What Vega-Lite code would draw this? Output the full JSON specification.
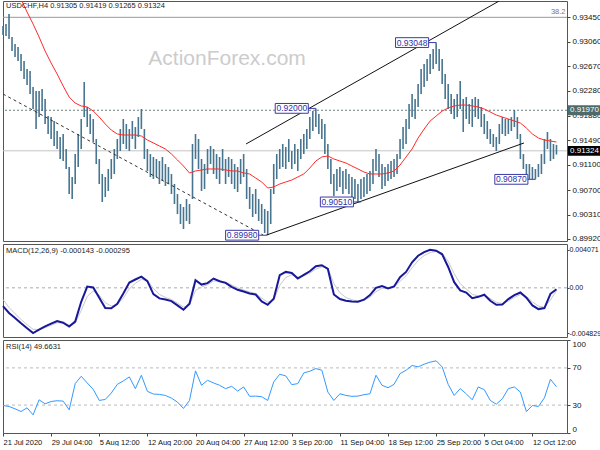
{
"$schema": "https://vega.github.io/schema/vega-lite/v6.json",
"padding": {"left": -2, "top": 0, "right": 0, "bottom": 0},
"bounds": "flush",
"background": "white",
"spacing": 3,
"config": {
 "view": {"stroke": "#555555", "strokeWidth": 1},
 "axis": {"labelFont": "Liberation Sans", "labelFontSize": 8, "labelColor": "#111111", "tickColor": "#444444", "tickSize": 3, "domain": false, "grid": false, "labelPadding": 2, "labelOverlap": false, "labelBound": false},
 "text": {"font": "Liberation Sans"}
},
"datasets": {
 "bars": [
{"t":0,"h":0.93311,"l":0.93168},{"t":2,"h":0.93343,"l":0.93152},{"t":4,"h":0.93502,"l":0.93104},{"t":6,"h":0.93136,"l":0.92913},{"t":8,"h":0.93025,"l":0.92818},{"t":10,"h":0.92977,"l":0.92754},{"t":12,"h":0.92865,"l":0.92595},{"t":14,"h":0.92754,"l":0.92467},{"t":16,"h":0.92627,"l":0.92372},{"t":18,"h":0.92595,"l":0.92229},
{"t":20,"h":0.9234,"l":0.9199},{"t":22,"h":0.92276,"l":0.91671},{"t":24,"h":0.92276,"l":0.91862},{"t":26,"h":0.92308,"l":0.91958},{"t":28,"h":0.92149,"l":0.91751},{"t":30,"h":0.91878,"l":0.91592},{"t":32,"h":0.91862,"l":0.91512},{"t":34,"h":0.91799,"l":0.91401},{"t":36,"h":0.9164,"l":0.91353},{"t":38,"h":0.91544,"l":0.91194},
{"t":40,"h":0.91592,"l":0.91162},{"t":42,"h":0.91353,"l":0.91035},{"t":44,"h":0.91066,"l":0.90637},{"t":46,"h":0.90907,"l":0.90557},{"t":48,"h":0.91273,"l":0.90796},{"t":50,"h":0.91592,"l":0.91066},{"t":52,"h":0.91831,"l":0.91353},{"t":54,"h":0.9242,"l":0.91862},{"t":56,"h":0.92022,"l":0.91703},{"t":58,"h":0.9191,"l":0.91592},
{"t":60,"h":0.91831,"l":0.91464},{"t":62,"h":0.91512,"l":0.91114},{"t":64,"h":0.91194,"l":0.90796},{"t":66,"h":0.90955,"l":0.90509},{"t":68,"h":0.90907,"l":0.90589},{"t":70,"h":0.91035,"l":0.90684},{"t":72,"h":0.91194,"l":0.90875},{"t":74,"h":0.91353,"l":0.90955},{"t":76,"h":0.91512,"l":0.91194},{"t":78,"h":0.91671,"l":0.91321},
{"t":80,"h":0.91831,"l":0.91433},{"t":82,"h":0.91751,"l":0.91353},{"t":84,"h":0.91671,"l":0.91321},{"t":86,"h":0.91799,"l":0.91512},{"t":88,"h":0.91703,"l":0.91353},{"t":90,"h":0.91862,"l":0.91544},{"t":92,"h":0.9199,"l":0.91671},{"t":94,"h":0.91671,"l":0.91194},{"t":96,"h":0.91353,"l":0.91003},{"t":98,"h":0.91273,"l":0.90907},
{"t":100,"h":0.91226,"l":0.90875},{"t":102,"h":0.91194,"l":0.90907},{"t":104,"h":0.91162,"l":0.90796},{"t":106,"h":0.91226,"l":0.90844},{"t":108,"h":0.91114,"l":0.90764},{"t":110,"h":0.91066,"l":0.90796},{"t":112,"h":0.90955,"l":0.90637},{"t":114,"h":0.90796,"l":0.90477},{"t":116,"h":0.90637,"l":0.90318},{"t":118,"h":0.90477,"l":0.90159},
{"t":120,"h":0.9043,"l":0.90079},{"t":122,"h":0.90557,"l":0.90207},{"t":124,"h":0.90477,"l":0.90159},{"t":126,"h":0.91433,"l":0.90557},{"t":128,"h":0.91592,"l":0.91194},{"t":130,"h":0.91512,"l":0.91035},{"t":132,"h":0.91194,"l":0.90684},{"t":134,"h":0.91114,"l":0.90716},{"t":136,"h":0.91353,"l":0.90955},{"t":138,"h":0.91401,"l":0.91114},
{"t":140,"h":0.91353,"l":0.90955},{"t":142,"h":0.91273,"l":0.90875},{"t":144,"h":0.91226,"l":0.90796},{"t":146,"h":0.91353,"l":0.91003},{"t":148,"h":0.91194,"l":0.90796},{"t":150,"h":0.91226,"l":0.90907},{"t":152,"h":0.91194,"l":0.90796},{"t":154,"h":0.91114,"l":0.90716},{"t":156,"h":0.91066,"l":0.90668},{"t":158,"h":0.91194,"l":0.90796},
{"t":160,"h":0.91273,"l":0.90907},{"t":162,"h":0.91035,"l":0.90557},{"t":164,"h":0.90748,"l":0.90398},{"t":166,"h":0.90637,"l":0.9027},{"t":168,"h":0.90716,"l":0.90318},{"t":170,"h":0.90557,"l":0.90207},{"t":172,"h":0.90477,"l":0.90159},{"t":174,"h":0.90398,"l":0.90016},{"t":176,"h":0.90366,"l":0.8998},{"t":178,"h":0.90716,"l":0.90159},
{"t":180,"h":0.91114,"l":0.90637},{"t":182,"h":0.91273,"l":0.90875},{"t":184,"h":0.91353,"l":0.91035},{"t":186,"h":0.91433,"l":0.91066},{"t":188,"h":0.91385,"l":0.91035},{"t":190,"h":0.91512,"l":0.91146},{"t":192,"h":0.91321,"l":0.91035},{"t":194,"h":0.91433,"l":0.91114},{"t":196,"h":0.91353,"l":0.91003},{"t":198,"h":0.91512,"l":0.91194},
{"t":200,"h":0.91592,"l":0.91273},{"t":202,"h":0.91671,"l":0.91353},{"t":204,"h":0.91862,"l":0.91512},{"t":206,"h":0.91958,"l":0.9164},{"t":208,"h":0.92,"l":0.91703},{"t":210,"h":0.9191,"l":0.91592},{"t":212,"h":0.91831,"l":0.91512},{"t":214,"h":0.91751,"l":0.91273},{"t":216,"h":0.91433,"l":0.91035},{"t":218,"h":0.91194,"l":0.90796},
{"t":220,"h":0.90955,"l":0.90605},{"t":222,"h":0.91035,"l":0.90684},{"t":224,"h":0.91066,"l":0.90748},{"t":226,"h":0.91003,"l":0.90637},{"t":228,"h":0.91035,"l":0.90716},{"t":230,"h":0.90955,"l":0.90637},{"t":232,"h":0.90907,"l":0.90589},{"t":234,"h":0.90875,"l":0.90557},{"t":236,"h":0.90796,"l":0.9051},{"t":238,"h":0.90875,"l":0.90557},
{"t":240,"h":0.90907,"l":0.90589},{"t":242,"h":0.90955,"l":0.90637},{"t":244,"h":0.91003,"l":0.90684},{"t":246,"h":0.91194,"l":0.90796},{"t":248,"h":0.91353,"l":0.91003},{"t":250,"h":0.91273,"l":0.90907},{"t":252,"h":0.91114,"l":0.90716},{"t":254,"h":0.91066,"l":0.90764},{"t":256,"h":0.91114,"l":0.90844},{"t":258,"h":0.91162,"l":0.90875},
{"t":260,"h":0.91194,"l":0.90907},{"t":262,"h":0.91273,"l":0.90955},{"t":264,"h":0.91512,"l":0.91194},{"t":266,"h":0.91703,"l":0.91353},{"t":268,"h":0.91831,"l":0.91433},{"t":270,"h":0.92069,"l":0.91671},{"t":272,"h":0.92229,"l":0.91862},{"t":274,"h":0.92149,"l":0.91831},{"t":276,"h":0.92388,"l":0.92022},{"t":278,"h":0.92627,"l":0.92229},
{"t":280,"h":0.92706,"l":0.9234},{"t":282,"h":0.92786,"l":0.92436},{"t":284,"h":0.92865,"l":0.92547},{"t":286,"h":0.92945,"l":0.92627},{"t":288,"h":0.93048,"l":0.92706},{"t":290,"h":0.92945,"l":0.92595},{"t":292,"h":0.92786,"l":0.92388},{"t":294,"h":0.92547,"l":0.92149},{"t":296,"h":0.92388,"l":0.9199},{"t":298,"h":0.92229,"l":0.9191},
{"t":300,"h":0.92149,"l":0.91831},{"t":302,"h":0.92229,"l":0.91862},{"t":304,"h":0.92436,"l":0.9199},{"t":306,"h":0.92149,"l":0.91624},{"t":308,"h":0.92181,"l":0.91831},{"t":310,"h":0.92069,"l":0.91751},{"t":312,"h":0.92149,"l":0.91703},{"t":314,"h":0.92181,"l":0.91862},{"t":316,"h":0.92149,"l":0.91831},{"t":318,"h":0.92022,"l":0.91703},
{"t":320,"h":0.9191,"l":0.91592},{"t":322,"h":0.91799,"l":0.91512},{"t":324,"h":0.91671,"l":0.91433},{"t":326,"h":0.91592,"l":0.91385},{"t":328,"h":0.91544,"l":0.91321},{"t":330,"h":0.91751,"l":0.91433},{"t":332,"h":0.91862,"l":0.91592},{"t":334,"h":0.91831,"l":0.9156},{"t":336,"h":0.91831,"l":0.91592},{"t":338,"h":0.91862,"l":0.9164},
{"t":340,"h":0.91975,"l":0.91703},{"t":342,"h":0.91862,"l":0.91512},{"t":344,"h":0.91592,"l":0.91194},{"t":346,"h":0.91273,"l":0.91035},{"t":348,"h":0.91114,"l":0.90907},{"t":350,"h":0.91114,"l":0.90875},{"t":352,"h":0.91066,"l":0.90875},{"t":354,"h":0.91035,"l":0.9087},{"t":356,"h":0.91114,"l":0.90907},{"t":358,"h":0.91273,"l":0.90955},
{"t":360,"h":0.91512,"l":0.91114},{"t":362,"h":0.91624,"l":0.91353},{"t":364,"h":0.91512,"l":0.91162},{"t":366,"h":0.91433,"l":0.91194},{"t":368,"h":0.91419,"l":0.91265}
 ],
 "ind": [
{"t":0,"m":0.94314,"d":-0.00195,"s":-0.00124,"r":29.6},{"t":4,"m":0.94123,"d":-0.00269,"s":-0.0021,"r":28.5},{"t":8,"m":0.93932,"d":-0.00322,"s":-0.00276,"r":26},{"t":12,"m":0.93741,"d":-0.00379,"s":-0.00337,"r":23.1},{"t":16,"m":0.93534,"d":-0.00432,"s":-0.00393,"r":27.1},
{"t":20,"m":0.93343,"d":-0.00483,"s":-0.00443,"r":19.5},{"t":24,"m":0.93136,"d":-0.00446,"s":-0.00445,"r":35.7},{"t":28,"m":0.92913,"d":-0.00411,"s":-0.00425,"r":31.4},{"t":32,"m":0.92722,"d":-0.00382,"s":-0.004,"r":33.9},{"t":36,"m":0.92547,"d":-0.00354,"s":-0.00373,"r":34.7},
{"t":40,"m":0.92356,"d":-0.00372,"s":-0.00372,"r":34.3},{"t":44,"m":0.92181,"d":-0.00414,"s":-0.00397,"r":24.9},{"t":48,"m":0.92085,"d":-0.00361,"s":-0.00376,"r":53.1},{"t":52,"m":0.92038,"d":-0.00149,"s":-0.00242,"r":61},{"t":56,"m":0.92022,"d":0.00014,"s":-0.00091,"r":53.8},
{"t":60,"m":0.91958,"d":0.00004,"s":-0.00035,"r":46.9},{"t":64,"m":0.91862,"d":-0.00106,"s":-0.00077,"r":35},{"t":68,"m":0.91751,"d":-0.00216,"s":-0.00159,"r":36.1},{"t":72,"m":0.91655,"d":-0.00219,"s":-0.00194,"r":43},{"t":76,"m":0.91592,"d":-0.0017,"s":-0.0018,"r":52.3},
{"t":80,"m":0.91576,"d":-0.0006,"s":-0.00109,"r":56},{"t":84,"m":0.91576,"d":0.00057,"s":-0.00011,"r":60.3},{"t":88,"m":0.91576,"d":0.00089,"s":0.00048,"r":47.7},{"t":92,"m":0.9156,"d":0.0012,"s":0.0009,"r":62.1},{"t":96,"m":0.91496,"d":0.00071,"s":0.00079,"r":44.8},
{"t":100,"m":0.91449,"d":-0.00067,"s":-0.00007,"r":41.9},{"t":104,"m":0.91401,"d":-0.00113,"s":-0.0007,"r":41.5},{"t":108,"m":0.91353,"d":-0.00124,"s":-0.00102,"r":40.4},{"t":112,"m":0.91273,"d":-0.00142,"s":-0.00126,"r":37.5},{"t":116,"m":0.91178,"d":-0.00188,"s":-0.00163,"r":33.2},
{"t":120,"m":0.91082,"d":-0.00234,"s":-0.00205,"r":26.4},{"t":124,"m":0.90971,"d":-0.0017,"s":-0.00184,"r":35},{"t":128,"m":0.91003,"d":0.00081,"s":-0.00028,"r":66.8},{"t":132,"m":0.91019,"d":0.00035,"s":0.00009,"r":51.3},{"t":136,"m":0.91035,"d":0.0005,"s":0.00033,"r":56.7},
{"t":140,"m":0.91035,"d":0.00099,"s":0.00072,"r":53.8},{"t":144,"m":0.91035,"d":0.00071,"s":0.00072,"r":51.3},{"t":148,"m":0.91019,"d":0.00053,"s":0.00061,"r":47.7},{"t":152,"m":0.91003,"d":0.00011,"s":0.00031,"r":50.2},{"t":156,"m":0.91003,"d":-0.00021,"s":0,"r":45.1},
{"t":160,"m":0.90971,"d":-0.00039,"s":-0.00023,"r":49.5},{"t":164,"m":0.90955,"d":-0.0006,"s":-0.00045,"r":39.4},{"t":168,"m":0.90891,"d":-0.00071,"s":-0.0006,"r":39.7},{"t":172,"m":0.90828,"d":-0.00145,"s":-0.0011,"r":39},{"t":176,"m":0.90732,"d":-0.00181,"s":-0.00152,"r":35},
{"t":180,"m":0.90748,"d":-0.00117,"s":-0.00131,"r":54.9},{"t":184,"m":0.90796,"d":0.00135,"s":0.00026,"r":63.2},{"t":188,"m":0.90828,"d":0.0017,"s":0.00111,"r":61.4},{"t":192,"m":0.90859,"d":0.00159,"s":0.00139,"r":52},{"t":196,"m":0.90907,"d":0.00099,"s":0.00115,"r":53.1},
{"t":200,"m":0.90955,"d":0.00138,"s":0.00129,"r":64.6},{"t":204,"m":0.91051,"d":0.00177,"s":0.00157,"r":66.4},{"t":208,"m":0.91162,"d":0.0023,"s":0.002,"r":69.3},{"t":212,"m":0.91226,"d":0.00241,"s":0.00224,"r":67.5},{"t":216,"m":0.91242,"d":0.00202,"s":0.00211,"r":44},
{"t":220,"m":0.91194,"d":-0.00071,"s":0.00045,"r":35},{"t":224,"m":0.91162,"d":-0.0012,"s":-0.00052,"r":42.2},{"t":228,"m":0.9113,"d":-0.00138,"s":-0.00103,"r":40.4},{"t":232,"m":0.91082,"d":-0.00145,"s":-0.00128,"r":39.4},{"t":236,"m":0.91035,"d":-0.00149,"s":-0.0014,"r":39.7},
{"t":240,"m":0.90987,"d":-0.00127,"s":-0.00132,"r":41.2},{"t":244,"m":0.90955,"d":-0.00078,"s":-0.001,"r":42.2},{"t":248,"m":0.90955,"d":0,"s":-0.00041,"r":62.1},{"t":252,"m":0.90955,"d":0.00018,"s":-0.00006,"r":51.3},{"t":256,"m":0.90971,"d":-0.00007,"s":-0.00006,"r":48.7},
{"t":260,"m":0.91003,"d":0.00014,"s":0.00006,"r":52.3},{"t":264,"m":0.91098,"d":0.00113,"s":0.00069,"r":63.9},{"t":268,"m":0.91226,"d":0.0017,"s":0.00129,"r":67.5},{"t":272,"m":0.91353,"d":0.00273,"s":0.00214,"r":72.6},{"t":276,"m":0.91528,"d":0.00343,"s":0.0029,"r":71.1},
{"t":280,"m":0.91671,"d":0.00382,"s":0.00344,"r":74},{"t":284,"m":0.91799,"d":0.00407,"s":0.00377,"r":76.2},{"t":288,"m":0.91878,"d":0.00396,"s":0.00388,"r":77.6},{"t":292,"m":0.91958,"d":0.00358,"s":0.0037,"r":71.1},{"t":296,"m":0.92006,"d":0.00223,"s":0.00283,"r":52.3},
{"t":300,"m":0.92038,"d":0.0006,"s":0.00151,"r":40.4},{"t":304,"m":0.92053,"d":-0.00028,"s":0.00045,"r":47.7},{"t":308,"m":0.92053,"d":-0.0005,"s":-0.00011,"r":42.2},{"t":312,"m":0.92038,"d":-0.0011,"s":-0.0007,"r":35.7},{"t":316,"m":0.92022,"d":-0.00096,"s":-0.00085,"r":49.5},
{"t":320,"m":0.9199,"d":-0.00074,"s":-0.00079,"r":46.6},{"t":324,"m":0.91942,"d":-0.00138,"s":-0.00114,"r":35},{"t":328,"m":0.91894,"d":-0.00181,"s":-0.00154,"r":31},{"t":332,"m":0.91862,"d":-0.00177,"s":-0.00168,"r":36.8},{"t":336,"m":0.91831,"d":-0.0012,"s":-0.0014,"r":47.7},
{"t":340,"m":0.91799,"d":-0.00078,"s":-0.00103,"r":49.5},{"t":344,"m":0.91767,"d":-0.0005,"s":-0.00072,"r":44},{"t":348,"m":0.91687,"d":-0.00106,"s":-0.00092,"r":23},{"t":352,"m":0.91592,"d":-0.00188,"s":-0.00149,"r":29.6},{"t":356,"m":0.91528,"d":-0.00227,"s":-0.00195,"r":28.5},
{"t":360,"m":0.91496,"d":-0.00216,"s":-0.00207,"r":37.9},{"t":364,"m":0.9148,"d":-0.00064,"s":-0.0013,"r":57.8},{"t":368,"m":0.91464,"d":-0.000143,"s":-0.000295,"r":49.66}
 ]
},
"vconcat": [
 {
  "width": 564, "height": 240,
  "layer": [
   {"data": {"values": [{"txt": "ActionForex.com"}]},
    "mark": {"type": "text", "fontSize": 21, "color": "#cccccc", "align": "center", "baseline": "middle"},
    "encoding": {"x": {"datum": 149, "type": "quantitative", "scale": {"domain": [0, 375], "nice": false, "zero": false}, "axis": null},
                 "y": {"datum": 0.9279, "type": "quantitative", "title": null},
                 "text": {"field": "txt"}}},
   {"data": {"values": [{"p": 0.9345}]}, "mark": {"type": "rule", "color": "#9a9a9a", "strokeWidth": 1},
    "encoding": {"y": {"field": "p", "type": "quantitative", "title": null}}},
   {"data": {"values": [{"p": 0.9197}]}, "mark": {"type": "rule", "color": "#6f8080", "strokeWidth": 1, "strokeDash": [2, 2]},
    "encoding": {"y": {"field": "p", "type": "quantitative", "title": null}}},
   {"data": {"values": [{"p": 0.91324}]}, "mark": {"type": "rule", "color": "#c4c4c4", "strokeWidth": 1},
    "encoding": {"y": {"field": "p", "type": "quantitative", "title": null}}},
   {"data": {"name": "bars"}, "mark": {"type": "rule", "color": "#477590", "strokeWidth": 1.6},
    "encoding": {"x": {"field": "t", "type": "quantitative", "axis": null},
                 "y": {"field": "l", "type": "quantitative", "title": null, "scale": {"domain": [0.89888, 0.9371], "nice": false, "zero": false},
                       "axis": {"orient": "right", "title": null, "tickCount": 30, "labelOverlap": false, "labelBound": false, "labelFlush": false, "zindex": 0, "values": [0.8992, 0.9031, 0.907, 0.911, 0.9149, 0.9188, 0.9228, 0.9267, 0.9306, 0.9345], "format": ".5f"}},
                 "y2": {"field": "h"}}},
   {"data": {"name": "ind"}, "mark": {"type": "line", "color": "#ff2a2a", "strokeWidth": 1, "clip": true},
    "encoding": {"x": {"field": "t", "type": "quantitative", "axis": null}, "y": {"field": "m", "type": "quantitative", "title": null}}},
   {"data": {"values": [{"g": "a", "t": 0, "p": 0.92229}, {"g": "a", "t": 172.9, "p": 0.89984}]},
    "mark": {"type": "line", "color": "#333333", "strokeWidth": 1, "strokeDash": [3, 3], "clip": true},
    "encoding": {"x": {"field": "t", "type": "quantitative", "axis": null}, "y": {"field": "p", "type": "quantitative", "title": null}, "detail": {"field": "g"}}},
   {"data": {"values": [{"g": "b", "t": 161.6, "p": 0.91433}, {"g": "b", "t": 329.8, "p": 0.93709}, {"g": "c", "t": 174.9, "p": 0.8998}, {"g": "c", "t": 346.4, "p": 0.91449}]},
    "mark": {"type": "line", "color": "#111111", "strokeWidth": 1, "clip": true},
    "encoding": {"x": {"field": "t", "type": "quantitative", "axis": null}, "y": {"field": "p", "type": "quantitative", "title": null}, "detail": {"field": "g"}}},
   {"data": {"values": [{"t": 175, "p": 0.8998, "lab": "0.89980"}, {"t": 208, "p": 0.92, "lab": "0.92000"}, {"t": 288, "p": 0.93048, "lab": "0.93048"}, {"t": 238, "p": 0.9051, "lab": "0.90510"}, {"t": 354, "p": 0.9087, "lab": "0.90870"}]},
    "transform": [{"calculate": "datum.t - 5", "as": "r"}, {"calculate": "datum.t - 27", "as": "l"}, {"calculate": "datum.t - 16", "as": "c"}, {"calculate": "datum.p + 0.00078", "as": "top"}, {"calculate": "datum.p - 0.00078", "as": "bot"}],
    "layer": [
     {"mark": {"type": "rule", "color": "#3a3aa8", "strokeWidth": 1},
      "encoding": {"x": {"field": "r", "type": "quantitative", "axis": null}, "x2": {"field": "t"}, "y": {"field": "p", "type": "quantitative", "title": null}}},
     {"mark": {"type": "rect", "fill": "white", "stroke": "#3a3aa8", "strokeWidth": 1},
      "encoding": {"x": {"field": "l", "type": "quantitative", "axis": null}, "x2": {"field": "r"}, "y": {"field": "top", "type": "quantitative", "title": null}, "y2": {"field": "bot"}}},
     {"mark": {"type": "text", "color": "#3030a8", "fontSize": 8.5, "align": "center", "baseline": "middle"},
      "encoding": {"x": {"field": "c", "type": "quantitative", "axis": null}, "y": {"field": "p", "type": "quantitative", "title": null}, "text": {"field": "lab"}}}
    ]},
   {"data": {"values": [{"txt": "USDCHF,H4  0.91305 0.91419 0.91265 0.91324"}]},
    "mark": {"type": "text", "fontSize": 7.5, "color": "#222222", "align": "left", "baseline": "middle"},
    "encoding": {"x": {"datum": 2, "type": "quantitative", "axis": null}, "y": {"datum": 0.9363, "type": "quantitative", "title": null}, "text": {"field": "txt"}}},
   {"data": {"values": [{"txt": "38.2"}]},
    "mark": {"type": "text", "fontSize": 7.5, "color": "#777777", "align": "right", "baseline": "bottom", "dy": -1},
    "encoding": {"x": {"datum": 374, "type": "quantitative", "axis": null}, "y": {"datum": 0.9345, "type": "quantitative", "title": null}, "text": {"field": "txt"}}},
   {"data": {"values": [{"p": 0.9197, "lab": "0.91970"}]},
    "transform": [{"calculate": "datum.p + 0.00078", "as": "top"}, {"calculate": "datum.p - 0.00078", "as": "bot"}],
    "layer": [
     {"mark": {"type": "rect", "fill": "#4e6a6a"},
      "encoding": {"x": {"datum": 375.6, "type": "quantitative", "axis": null}, "x2": {"datum": 397}, "y": {"field": "top", "type": "quantitative", "title": null}, "y2": {"field": "bot"}}},
     {"mark": {"type": "text", "color": "white", "fontSize": 8, "align": "left", "baseline": "middle"},
      "encoding": {"x": {"datum": 377, "type": "quantitative", "axis": null}, "y": {"field": "p", "type": "quantitative", "title": null}, "text": {"field": "lab"}}}
    ]},
   {"data": {"values": [{"p": 0.91324, "lab": "0.91324"}]},
    "transform": [{"calculate": "datum.p + 0.00078", "as": "top"}, {"calculate": "datum.p - 0.00078", "as": "bot"}],
    "layer": [
     {"mark": {"type": "rect", "fill": "#000000"},
      "encoding": {"x": {"datum": 375.6, "type": "quantitative", "axis": null}, "x2": {"datum": 397}, "y": {"field": "top", "type": "quantitative", "title": null}, "y2": {"field": "bot"}}},
     {"mark": {"type": "text", "color": "white", "fontSize": 8, "align": "left", "baseline": "middle"},
      "encoding": {"x": {"datum": 377, "type": "quantitative", "axis": null}, "y": {"field": "p", "type": "quantitative", "title": null}, "text": {"field": "lab"}}}
    ]}
  ]
 },
 {
  "width": 564, "height": 93,
  "layer": [
   {"data": {"values": [{"v": 0}]}, "mark": {"type": "rule", "color": "#aaaaaa", "strokeWidth": 1, "strokeDash": [3, 3]},
    "encoding": {"y": {"field": "v", "type": "quantitative", "title": null}}},
   {"data": {"name": "ind"}, "mark": {"type": "line", "color": "#c8c8c8", "strokeWidth": 1},
    "encoding": {"x": {"field": "t", "type": "quantitative", "scale": {"domain": [0, 375], "nice": false, "zero": false}, "axis": null},
                 "y": {"field": "s", "type": "quantitative", "title": null}}},
   {"data": {"name": "ind"}, "mark": {"type": "line", "color": "#18189a", "strokeWidth": 2},
    "encoding": {"x": {"field": "t", "type": "quantitative", "axis": null},
                 "y": {"field": "d", "type": "quantitative", "title": null, "scale": {"domain": [-0.00525, 0.00468], "nice": false, "zero": false},
                       "axis": {"orient": "right", "title": null, "tickCount": 30, "tickSize": 2, "labelFontSize": 7, "labelPadding": 0, "labelOverlap": false, "labelBound": false, "zindex": 2, "values": [-0.004829, 0, 0.004071], "labelExpr": "datum.value > 0.001 ? '0.004071' : (datum.value < -0.001 ? '-0.004829' : '0.00')"}}}},
   {"data": {"values": [{"txt": "MACD(12,26,9) -0.000143 -0.000295"}]},
    "mark": {"type": "text", "fontSize": 7.5, "color": "#222222", "align": "left", "baseline": "middle"},
    "encoding": {"x": {"datum": 2, "type": "quantitative", "axis": null}, "y": {"datum": 0.00393, "type": "quantitative", "title": null}, "text": {"field": "txt"}}}
  ]
 },
 {
  "width": 564, "height": 93,
  "layer": [
   {"data": {"values": [{"v": 70}, {"v": 30}]}, "mark": {"type": "rule", "color": "#bbbbbb", "strokeWidth": 1, "strokeDash": [3, 3]},
    "encoding": {"y": {"field": "v", "type": "quantitative", "title": null}}},
   {"data": {"name": "ind"}, "mark": {"type": "line", "color": "#3399ff", "strokeWidth": 1},
    "encoding": {"x": {"field": "t", "type": "quantitative", "title": null, "scale": {"domain": [0, 375], "nice": false, "zero": false},
                       "axis": {"title": null, "tickCount": 30, "values": [0, 32, 64, 96, 128, 160, 192, 224, 256, 288, 320, 352], "labelAlign": "left", "labelFontSize": 7.5, "labelOverlap": false, "labelFlush": false, "labelBound": false, "labelPadding": 2,
                                "labelExpr": "['21 Jul 2020','29 Jul 04:00','5 Aug 12:00','12 Aug 20:00','20 Aug 04:00','27 Aug 12:00','3 Sep 20:00','11 Sep 04:00','18 Sep 12:00','25 Sep 20:00','5 Oct 04:00','12 Oct 12:00'][round(datum.value / 32)]"}},
                 "y": {"field": "r", "type": "quantitative", "title": null, "scale": {"domain": [0, 100], "nice": false, "zero": false},
                       "axis": {"orient": "right", "title": null, "tickCount": 30, "labelOverlap": false, "labelBound": false, "zindex": 2, "values": [0, 30, 70, 100], "labelFlush": true}}}},
   {"data": {"values": [{"txt": "RSI(14) 49.6631"}]},
    "mark": {"type": "text", "fontSize": 7.5, "color": "#222222", "align": "left", "baseline": "middle"},
    "encoding": {"x": {"datum": 2, "type": "quantitative", "title": null}, "y": {"datum": 92, "type": "quantitative", "title": null}, "text": {"field": "txt"}}}
  ]
 }
]
}
